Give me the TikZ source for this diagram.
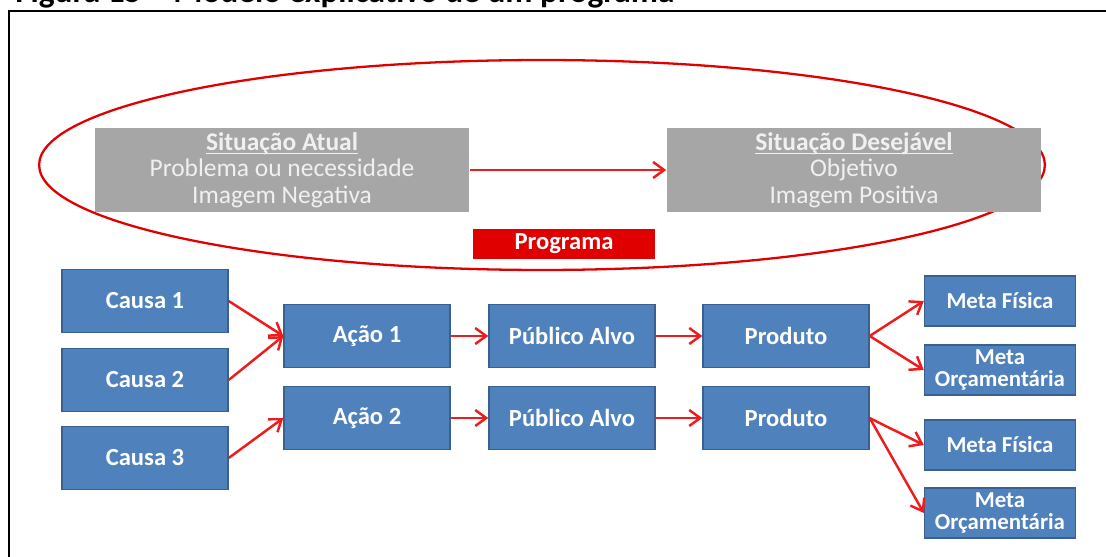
\documentclass[tikz,border=0pt]{standalone}
\usepackage{fontspec}
\setmainfont{Carlito}
\usepackage{xcolor}
\usepackage{tikz}
\usetikzlibrary{arrows.meta,positioning,shapes.misc}

\definecolor{boxblue}{HTML}{4F81BD}
\definecolor{boxline}{HTML}{3A6090}
\definecolor{boxgray}{HTML}{A6A6A6}
\definecolor{progred}{HTML}{E00000}
\definecolor{arrred}{HTML}{EE1C1C}

\newcommand{\sublinha}[1]{\setbox0\hbox{#1}\rlap{\rule[-2.2pt]{\wd0}{0.7pt}}\box0}

\begin{document}
\begin{tikzpicture}[x=0.02cm, y=-0.02cm,
    bluebox/.style={rectangle, draw=boxline, line width=0.8pt, fill=boxblue, text=white, font=\fontsize{14}{15}\selectfont\bfseries, minimum width=3.32cm, minimum height=1.26cm, inner sep=0pt, align=center},
    metabox/.style={bluebox, minimum width=3.02cm, minimum height=1cm, font=\fontsize{13}{12.5}\selectfont\bfseries},
    graybox/.style={rectangle, fill=boxgray, text=white!94!black, minimum width=7.5cm, minimum height=1.7cm, inner sep=0pt, align=center, font=\fontsize{14.5}{15}\selectfont},
    redarrow/.style={-{Straight Barb[length=2.2mm,width=3.2mm]}, draw=arrred, line width=1.4pt}]
    \useasboundingbox (0,0) rectangle (1106,557);

    % frame and caption
    \node (titulo) [anchor=base west, inner sep=0pt, font=\fontsize{19}{20}\selectfont\bfseries] at (15,3) {Figura 15 – Modelo explicativo de um programa};
    \draw [line width=1.2pt] (9,557) -- (9,11) -- (1106,11);

    % programa
    \draw [progred, line width=1.3pt] (542,165) ellipse [x radius=10.06cm, y radius=2.1cm];
    \node (atual) [graybox] at (282,170) {\textbf{\sublinha{Situação Atual}}\\Problema ou necessidade\\Imagem Negativa};
    \node (desejavel) [graybox] at (854,170) {\textbf{\sublinha{Situação Desejável}}\\Objetivo\\Imagem Positiva};
    \node (prog) [rectangle, fill=progred, text=white, font=\fontsize{14}{15}\selectfont\bfseries, minimum width=3.64cm, minimum height=0.6cm, inner sep=0pt] at (564,244) {Programa};

    % causas e acoes
    \node (c1) [bluebox] at (145,301) {Causa 1};
    \node (c2) [bluebox] at (145,380) {Causa 2};
    \node (c3) [bluebox] at (145,458) {Causa 3};
    \node (a1) [bluebox] at (367,336) {Ação 1};
    \node (a2) [bluebox] at (367,418) {Ação 2};
    \node (p1) [bluebox] at (572,336) {Público Alvo};
    \node (p2) [bluebox] at (572,418) {Público Alvo};
    \node (r1) [bluebox] at (786,336) {Produto};
    \node (r2) [bluebox] at (786,418) {Produto};

    % metas
    \node (mf1) [metabox] at (1000,301) {Meta Física};
    \node (mo1) [metabox] at (1000,370) {Meta\\Orçamentária};
    \node (mf2) [metabox] at (1000,445) {Meta Física};
    \node (mo2) [metabox] at (1000,513) {Meta\\Orçamentária};

    \draw [redarrow] (atual.east) -- (desejavel.west);
    \draw [redarrow] (c1.east) -- (a1.west);
    \draw [redarrow] (c2.east) -- (a1.west);
    \draw [redarrow] (c3.east) -- (a2.west);
    \draw [redarrow] (a1) -- (p1);
    \draw [redarrow] (a2) -- (p2);
    \draw [redarrow] (p1) -- (r1);
    \draw [redarrow] (p2) -- (r2);
    \draw [redarrow] (r1.east) -- (mf1.west);
    \draw [redarrow] (r1.east) -- (mo1.west);
    \draw [redarrow] (r2.east) -- (mf2.west);
    \draw [redarrow] (r2.east) -- (mo2.west);
\end{tikzpicture}
\end{document}
